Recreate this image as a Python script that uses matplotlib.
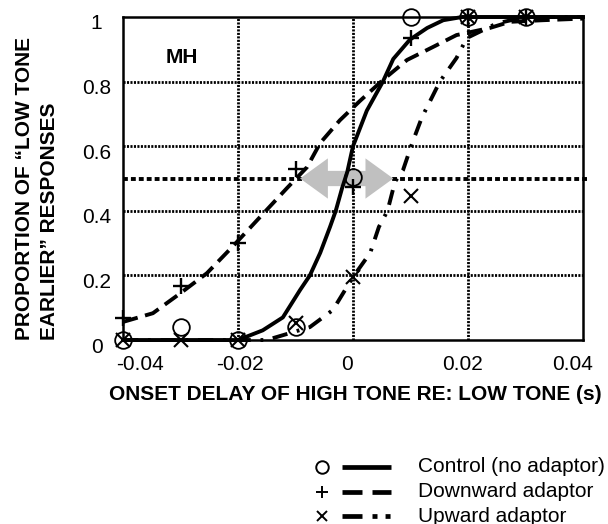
import numpy as np
import matplotlib
matplotlib.use("Agg")
import matplotlib.pyplot as plt
from matplotlib.transforms import ScaledTranslation

plt.rcParams['font.family'] = ['Liberation Sans', 'DejaVu Sans']
plt.rcParams['lines.scale_dashes'] = False

# --- data ---
delays = [-0.04, -0.03, -0.02, -0.01, 0.0, 0.01, 0.02, 0.03]
control_pts = [0.0, 0.04, 0.0, 0.04, 0.505, 1.0, 1.0, 1.0]
down_pts = [0.068, 0.167, 0.30, 0.53, 0.474, 0.935, 1.0, 1.0]
up_pts = [0.0, 0.0, 0.0, 0.053, 0.195, 0.446, 1.0, 1.0]

# fitted curves
control_fit_x = [-0.04, -0.02, -0.0157, -0.0122, -0.0092, -0.0075, -0.0057, -0.004,
                 -0.003, -0.0019, -0.001, 0.0, 0.0024, 0.0052, 0.007, 0.0099,
                 0.0129, 0.0157, 0.019, 0.04]
control_fit_y = [0.0, 0.0, 0.03, 0.07, 0.155, 0.2, 0.27, 0.35, 0.40, 0.47, 0.52,
                 0.60, 0.71, 0.80, 0.87, 0.93, 0.966, 0.99, 1.0, 1.0]

down_fit_x = [-0.04, -0.0348, -0.030, -0.0254, -0.0209, -0.0162, -0.0115, -0.008,
              -0.0057, -0.0023, 0.0012, 0.0052, 0.0094, 0.0139, 0.018, 0.0238,
              0.0273, 0.033, 0.04]
down_fit_y = [0.056, 0.083, 0.145, 0.207, 0.29, 0.38, 0.47, 0.535, 0.61, 0.68,
              0.74, 0.805, 0.867, 0.907, 0.944, 0.966, 0.985, 0.99, 0.995]

up_fit_x = [-0.04, -0.015, -0.0075, -0.0035, 0.0, 0.003, 0.0045, 0.006, 0.0073,
            0.0087, 0.0103, 0.012, 0.0137, 0.0151, 0.018, 0.0198, 0.025, 0.03, 0.04]
up_fit_y = [0.0, 0.0, 0.04, 0.093, 0.195, 0.27, 0.35, 0.40, 0.49, 0.526, 0.61,
            0.69, 0.75, 0.80, 0.873, 0.935, 0.98, 1.0, 1.0]

# shift between the two adapted curves at 50%
shift_left, shift_right = -0.0092, 0.0070

x_ticks = [-0.04, -0.02, 0, 0.02, 0.04]
x_tick_labels = ['-0.04', '-0.02', '0', '0.02', '0.04']
y_ticks = [0, 0.2, 0.4, 0.6, 0.8, 1]
y_tick_labels = ['0', '0.2', '0.4', '0.6', '0.8', '1']

legend_labels = ['Control (no adaptor)', 'Downward adaptor', 'Upward adaptor']

# --- figure ---
fig = plt.figure(figsize=(6.08, 5.24), dpi=100)
ax = fig.add_axes([0.2023, 0.3511, 0.7566, 0.6165])
ax.set_xlim(-0.04, 0.04)
ax.set_ylim(0, 1)

# dotted grid
for gx in [-0.02, 0, 0.02]:
    ax.axvline(gx, color='black', lw=2.0, dashes=(1.5, 1.0), zorder=1)
for gy in [0.2, 0.4, 0.6, 0.8]:
    ax.axhline(gy, color='black', lw=2.0, dashes=(1.5, 1.0), zorder=1)
# 50% line
ax.plot([-0.04, 0.0407], [0.5, 0.5], color='black', lw=2.8, dashes=(3.5, 2.2),
        clip_on=False, zorder=1)

# grey double arrow
mid = (shift_left + shift_right) / 2
for end in (shift_left, shift_right):
    ax.annotate('', xy=(end, 0.5), xytext=(mid, 0.5),
                arrowprops=dict(arrowstyle='simple,head_length=1.0,head_width=1.45,tail_width=0.55',
                                mutation_scale=20, color='#c0c0c0', lw=0,
                                shrinkA=0, shrinkB=0), zorder=2)

# curves
ax.plot(control_fit_x, control_fit_y, color='black', lw=2.8, zorder=3,
        solid_joinstyle='round', clip_on=False)
ax.plot(down_fit_x, down_fit_y, color='black', lw=2.8, dashes=(11, 5.5), zorder=3,
        clip_on=False)
ax.plot(up_fit_x, up_fit_y, color='black', lw=2.8, dashes=(11, 7, 2, 7), zorder=3,
        clip_on=False)

# data points
ax.plot(delays, control_pts, 'o', ms=12, mfc='none', mec='black', mew=1.3,
        clip_on=False, zorder=4)
ax.plot(delays, down_pts, '+', ms=11, mec='black', mew=1.7, clip_on=False, zorder=4)
ax.plot(delays, up_pts, 'x', ms=10, mec='black', mew=1.5, clip_on=False, zorder=4)

ax.text(-0.0297, 0.875, 'MH', fontsize=15, fontweight='bold', ha='center', va='center')

# axes styling
for s in ax.spines.values():
    s.set_linewidth(1.8)
    s.set_color('black')
ax.set_xticks(x_ticks)
ax.set_xticklabels(x_tick_labels)
ax.set_yticks(y_ticks)
ax.set_yticklabels(y_tick_labels)
ax.tick_params(axis='both', length=0, labelsize=15)
ax.tick_params(axis='x', pad=11)
ax.tick_params(axis='y', pad=19)
for lab in ax.get_yticklabels():
    lab.set_horizontalalignment('center')
for lab, dx in zip(ax.get_xticklabels(), [17, 2, -6, -6, -10]):
    lab.set_transform(lab.get_transform() + ScaledTranslation(dx / 100, 0, fig.dpi_scale_trans))
for lab in ax.get_yticklabels():
    lab.set_transform(lab.get_transform() + ScaledTranslation(0, -5 / 100, fig.dpi_scale_trans))

fig.text(355 / 608, 1 - 394 / 524, 'ONSET DELAY OF HIGH TONE RE: LOW TONE (s)',
         fontsize=15, fontweight='bold', ha='center', va='center')
fig.text(25 / 608, 1 - 340 / 524, 'PROPORTION OF \u201cLOW TONE', rotation=90,
         fontsize=15, fontweight='bold', ha='center', va='bottom')
fig.text(50 / 608, 1 - 340 / 524, 'EARLIER\u201d RESPONSES', rotation=90,
         fontsize=15, fontweight='bold', ha='center', va='bottom')

# legend drawn below the axes
lax = fig.add_axes([0, 0, 1, 1])
lax.set_xlim(0, 608)
lax.set_ylim(524, 0)
lax.axis('off')
markers = ['o', '+', 'x']
styles = [dict(), dict(dashes=(14.4, 7.2)), dict(dashes=(14.4, 7.2, 3.6, 5.8, 3.6, 20))]
for i, (mk, st, lab) in enumerate(zip(markers, styles, legend_labels)):
    yy = 467 + i * 24.5
    lax.plot([322], [yy], mk, ms=9 if mk != 'x' else 7, mfc='none', mec='black', mew=1.4)
    lax.plot([342, 391], [yy, yy], color='black', lw=3.4, solid_capstyle='butt',
             dash_capstyle='butt', **st)
    lax.text(418, yy, lab, fontsize=15, ha='left', va='center')

fig.savefig('out.png', dpi=100)
